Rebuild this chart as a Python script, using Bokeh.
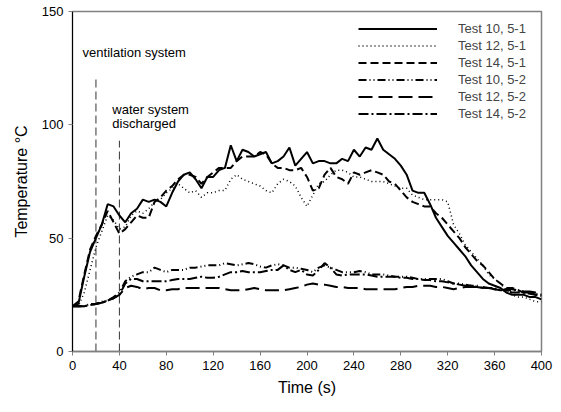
from bokeh.plotting import figure
from bokeh.models import Range1d, Legend, LegendItem, FixedTicker
from bokeh.core.properties import value
from bokeh.embed import file_html
from bokeh.resources import INLINE

time = list(range(0, 405, 5))

test10_51 = [20, 21, 33, 44, 50, 56, 65, 64, 60, 57, 61, 63, 67, 66, 67, 66, 64, 70, 75, 78,
             79, 76, 72, 77, 77, 80, 81, 91, 84, 89, 88, 86, 87, 88, 83, 84, 86, 90, 82, 85,
             88, 83, 84, 84, 83, 83, 85, 84, 89, 86, 90, 89, 94, 89, 87, 85, 82, 78, 71, 70,
             70, 65, 59, 55, 51, 48, 45, 42, 38, 35, 32, 30, 29, 28, 26, 25, 25, 25, 24, 24, 23]
test12_51 = [20, 20, 26, 36, 46, 53, 60, 58, 54, 55, 60, 62, 61, 63, 66, 67, 70, 72, 74, 72,
             70, 71, 68, 70, 70, 71, 71, 76, 78, 76, 75, 74, 73, 71, 70, 74, 76, 75, 73, 68,
             64, 69, 74, 75, 78, 80, 80, 79, 77, 77, 76, 75, 75, 75, 74, 73, 72, 72, 69, 68,
             67, 67, 67, 67, 66, 56, 52, 47, 44, 41, 38, 34, 32, 30, 27, 25, 24, 24, 23, 22, 22]
test14_51 = [20, 22, 34, 45, 51, 56, 62, 57, 52, 54, 57, 60, 59, 59, 66, 68, 71, 73, 76, 78,
             78, 77, 74, 77, 79, 81, 81, 81, 84, 86, 86, 86, 88, 87, 83, 81, 81, 80, 80, 81,
             77, 71, 72, 78, 81, 77, 76, 74, 79, 78, 79, 80, 79, 78, 75, 74, 71, 68, 66, 65,
             64, 64, 61, 59, 56, 53, 50, 46, 43, 40, 38, 35, 32, 30, 28, 28, 27, 26, 26, 25, 25]
test10_52 = [20, 20, 20, 21, 21, 22, 22.5, 24, 26, 31, 33, 34, 35, 35, 37, 36, 35, 36, 36, 36,
             37, 37, 37.5, 38, 38, 38, 39, 38.5, 38, 38.5, 39, 38.5, 37.5, 37, 38, 38.5, 38, 37, 37, 36.5,
             36, 35, 37, 38, 37, 36, 35, 35, 35, 35.5, 35, 34, 34, 34, 33.5, 33, 33, 33, 32.5, 32,
             32, 32, 32, 32, 31, 30, 30, 29.5, 29, 29, 28, 28, 28, 27, 27, 27, 27, 26, 26, 25.5, 25]
test12_52 = [20, 20, 20, 20.5, 21, 21.5, 22.5, 23.5, 25, 28, 29, 28.5, 27.5, 28, 28, 27, 27, 27.5, 27.5, 28,
             28, 28, 28, 28, 28, 28, 27.5, 27, 27, 27, 27.5, 28, 27.5, 27, 27, 27, 27, 27.5, 28, 28.5,
             29.5, 30, 29.5, 29.5, 29, 28.5, 28.5, 28, 28, 28, 27.5, 27.5, 27.5, 27.5, 27.5, 27.5, 28, 28.5, 28.5, 29,
             29, 29, 28.5, 28.5, 28, 27.5, 28, 28.5, 28.5, 28.5, 28.5, 28, 27.5, 27, 27.5, 27.5, 27, 26.5, 26.5, 26, 26]
test14_52 = [20, 20, 20, 20.5, 21, 21.5, 22.5, 23.5, 25, 30, 32, 32, 31, 31, 31, 31, 31, 31.5, 32, 32,
             32, 32.5, 33, 32.5, 32.5, 33, 34, 35, 35, 35.5, 35, 35, 35, 35.5, 36, 36, 38, 36, 35, 36,
             34, 33.5, 36, 39, 37, 34, 33.5, 34, 34, 34, 34, 33.5, 33, 33, 33, 33, 32.5, 32.5, 32, 32,
             31.5, 31.5, 31, 31, 30.5, 30, 29.5, 29, 29, 28.5, 28, 28, 27.5, 27, 27, 26, 26, 26, 25.5, 25, 24.5]

series_names = ["Test 10, 5-1", "Test 12, 5-1", "Test 14, 5-1",
                "Test 10, 5-2", "Test 12, 5-2", "Test 14, 5-2"]
series_values = [test10_51, test12_51, test14_51, test10_52, test12_52, test14_52]
series_dash = ["solid", "1 3", "8 4", "8 3 1 3 1 3", "14 6", "10 3 2 3"]
series_width = [2, 1.5, 2, 2, 2, 2]

event_x = [20, 40]
event_top = [120, 93]
x_ticks = list(range(0, 401, 40))
y_ticks = [0, 50, 100, 150]

FONT = "Liberation Sans"

p = figure(width=561, height=412, output_backend="svg", toolbar_location=None,
           x_range=Range1d(0, 400), y_range=Range1d(0, 150),
           min_border_left=72, min_border_right=20, min_border_top=11, min_border_bottom=61)
p.xgrid.visible = False
p.ygrid.visible = False
p.outline_line_color = "#808080"
p.outline_line_width = 1.5
p.background_fill_color = "white"
p.border_fill_color = "white"

# event lines
p.segment(x0=event_x, y0=[0, 0], x1=event_x, y1=event_top, line_color="#333333",
          line_width=1, line_dash="8 4")
p.text(x=[8.6], y=[132], text=["ventilation system"], text_font=value(FONT),
       text_font_size="13px", text_baseline="middle", text_align="left", text_color="black")
p.text(x=[34, 34], y=[106.8, 100.6], text=["water system", "discharged"], text_font=value(FONT),
       text_font_size="13px", text_baseline="middle", text_align="left", text_color="black")

items = []
for name, vals, dash, w in zip(series_names, series_values, series_dash, series_width):
    r = p.line(time, vals, line_color="black", line_width=w, line_dash=dash)
    items.append(LegendItem(label=name, renderers=[r]))

legend = Legend(items=items, location=(286, 229), padding=0, margin=0, spacing=0,
                glyph_width=79, glyph_height=17, label_height=17, label_standoff=21,
                label_text_font=FONT, label_text_font_size="13px",
                border_line_alpha=0, background_fill_alpha=0)
p.add_layout(legend, "center")

p.xaxis.ticker = FixedTicker(ticks=x_ticks)
p.yaxis.ticker = FixedTicker(ticks=y_ticks)
for ax in (p.xaxis[0], p.yaxis[0]):
    ax.minor_tick_line_color = None
    ax.major_tick_in = 0
    ax.major_tick_out = 4
    ax.major_tick_line_color = "#808080"
    ax.major_label_text_font = FONT
    ax.major_label_text_font_size = "13px"
    ax.major_label_text_color = "black"
    ax.axis_label_text_font = FONT
    ax.axis_label_text_font_size = "16px"
    ax.axis_label_text_font_style = "normal"
    ax.axis_label_text_color = "black"
    ax.major_label_standoff = 5
p.xaxis.axis_line_color = "#808080"
p.xaxis.axis_line_width = 1.5
p.yaxis.axis_line_color = "black"
p.yaxis.axis_line_width = 1
p.xaxis.axis_label = "Time (s)"
p.yaxis.axis_label = "Temperature °C"
p.xaxis.axis_label_standoff = 6
p.yaxis.axis_label_standoff = 9

open("out.html", "w").write(file_html(p, INLINE))
